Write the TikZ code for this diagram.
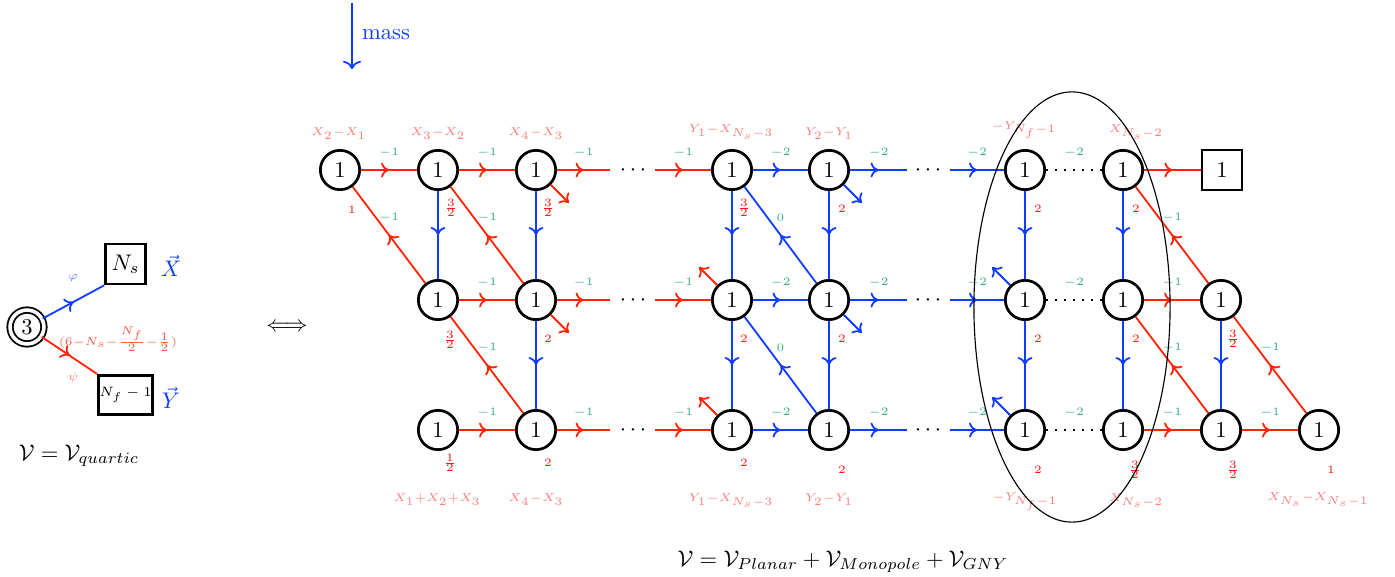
\documentclass[tikz,border=0pt]{standalone}
\usetikzlibrary{decorations.markings,arrows.meta}
\definecolor{cR}{RGB}{255,35,5}
\definecolor{cB}{RGB}{15,60,255}
\definecolor{cG}{RGB}{55,175,125}
\definecolor{cP}{RGB}{255,125,125}
\definecolor{cL}{RGB}{255,20,20}
\begin{document}
\begin{tikzpicture}[x=0.4425pt,y=-0.4425pt,
  >={To[length=3.5pt,width=6.6pt]},
  qn/.style={draw, circle, very thick, minimum size=17.4pt, inner sep=0pt},
  mid/.style={postaction={decorate,decoration={markings,mark=at position 0.5 with {\arrow{>}}}}},
  eR/.style={cR, thick, mid},
  eB/.style={cB, thick, mid},
  dotl/.style={black, line width=1pt, dash pattern=on 1pt off 3pt},
  gl/.style={midway, yshift=7.5pt, font=\tiny, text=cG},
  rl/.style={font=\tiny, text=cL, inner sep=0pt},
  pt/.style={font=\tiny, text=cP, anchor=south},
  pb/.style={font=\tiny, text=cP, anchor=north},
  stubR/.style={cR, thick, ->},
  stubB/.style={cB, thick, ->}]
\useasboundingbox (0,0) rectangle (1395,577);

% ---------- left quiver ----------
\node[draw, circle, double, thick, double distance=1.6pt, minimum size=15pt, inner sep=0pt] (three) at (27,327) {3};
\node[draw, very thick, minimum size=17.7pt, inner sep=1pt] (Ns) at (125.5,264) {$N_s$};
\node[draw, very thick, minimum width=22.5pt, minimum height=17.4pt, inner sep=0.4pt, font=\fontsize{6.3pt}{7pt}\selectfont] (Nf) at (125.5,395) {$N_f-1$};
\draw[eB] (three) -- (Ns.south west);
\draw[eR] (three) -- (Nf.north west);
\node[font=\tiny, text=cB!65] (phi) at (73,278) {$\varphi$};
\node[font=\tiny, text=cP] (psi) at (73,378) {$\psi$};
\node[font=\tiny, text=cR!75] (rch) at (118,339) {$\scriptstyle(6-N_s-\frac{N_f}{2}-\frac{1}{2})$};
\node[text=cB, inner sep=0pt] (vX) at (171,266) {$\vec{X}$};
\node[text=cB, inner sep=0pt] (vY) at (171,398) {$\vec{Y}$};
\node (Vq) at (79,456) {$\mathcal{V}=\mathcal{V}_{quartic}$};
\node (iff) at (287,327) {$\Longleftrightarrow$};

% ---------- mass arrow ----------
\coordinate (m0) at (352,3);
\coordinate (m1) at (352,69);
\draw[cB, thick, -{To[length=3.6pt,width=8pt]}] (m0) -- (m1);
\node[text=cB] (mass) at (386,35) {mass};

% ---------- nodes ----------
\node[qn] (n11) at (340,170) {1};
\node[qn] (n21) at (438,170) {1};
\node[qn] (n31) at (536,170) {1};
\node[qn] (n41) at (732,170) {1};
\node[qn] (n51) at (829,170) {1};
\node[qn] (n61) at (1025,170) {1};
\node[qn] (n71) at (1123,170) {1};
\node[draw, very thick, minimum size=17.7pt, inner sep=0pt] (sq) at (1222,170) {1};

\node[qn] (n22) at (438,300) {1};
\node[qn] (n32) at (536,300) {1};
\node[qn] (n42) at (732,300) {1};
\node[qn] (n52) at (829,300) {1};
\node[qn] (n62) at (1025,300) {1};
\node[qn] (n72) at (1123,300) {1};
\node[qn] (n82) at (1221,300) {1};

\node[qn] (n23) at (438,430) {1};
\node[qn] (n33) at (536,430) {1};
\node[qn] (n43) at (732,430) {1};
\node[qn] (n53) at (829,430) {1};
\node[qn] (n63) at (1025,430) {1};
\node[qn] (n73) at (1123,430) {1};
\node[qn] (n83) at (1221,430) {1};
\node[qn] (n93) at (1319,430) {1};

% free ends and dots
\foreach \r/\y in {1/170,2/300,3/430}{
  \coordinate (a\r) at (610,\y);
  \coordinate (b\r) at (655,\y);
  \coordinate (c\r) at (907,\y);
  \coordinate (d\r) at (950,\y);
  \node (dA\r) at (633,\y) {$\cdots$};
  \node (dB\r) at (928,\y) {$\cdots$};
}

% ---------- row 1 ----------
\draw[eR] (n11) -- node[gl]{$-1$} (n21);
\draw[eR] (n21) -- node[gl]{$-1$} (n31);
\draw[eR] (n31) -- node[gl]{$-1$} (a1);
\draw[eR] (b1) -- node[gl]{$-1$} (n41);
\draw[eB] (n41) -- node[gl]{$-2$} (n51);
\draw[eB] (n51) -- node[gl]{$-2$} (c1);
\draw[eB] (d1) -- node[gl]{$-2$} (n61);
\draw[dotl] (n61) -- node[gl]{$-2$} (n71);
\draw[eR] (n71) -- (sq);

% ---------- row 2 ----------
\draw[eR] (n22) -- node[gl]{$-1$} (n32);
\draw[eR] (n32) -- node[gl]{$-1$} (a2);
\draw[eR] (b2) -- node[gl]{$-1$} (n42);
\draw[eB] (n42) -- node[gl]{$-2$} (n52);
\draw[eB] (n52) -- node[gl]{$-2$} (c2);
\draw[eB] (d2) -- node[gl]{$-2$} (n62);
\draw[dotl] (n62) -- node[gl]{$-2$} (n72);
\draw[eR] (n72) -- node[gl]{$-1$} (n82);

% ---------- row 3 ----------
\draw[eR] (n23) -- node[gl]{$-1$} (n33);
\draw[eR] (n33) -- node[gl]{$-1$} (a3);
\draw[eR] (b3) -- node[gl]{$-1$} (n43);
\draw[eB] (n43) -- node[gl]{$-2$} (n53);
\draw[eB] (n53) -- node[gl]{$-2$} (c3);
\draw[eB] (d3) -- node[gl]{$-2$} (n63);
\draw[dotl] (n63) -- node[gl]{$-2$} (n73);
\draw[eR] (n73) -- node[gl]{$-1$} (n83);
\draw[eR] (n83) -- node[gl]{$-1$} (n93);

% ---------- verticals ----------
\draw[eB] (n21) -- (n22);
\draw[eB] (n31) -- (n32);
\draw[eB] (n32) -- (n33);
\draw[eB] (n41) -- (n42);
\draw[eB] (n42) -- (n43);
\draw[eB] (n51) -- (n52);
\draw[eB] (n52) -- (n53);
\draw[eB] (n61) -- (n62);
\draw[eB] (n62) -- (n63);
\draw[eB] (n71) -- (n72);
\draw[eB] (n72) -- (n73);
\draw[eB] (n82) -- (n83);

% ---------- diagonals ----------
\draw[eR] (n22) -- node[gl]{$-1$} (n11);
\draw[eR] (n32) -- node[gl]{$-1$} (n21);
\draw[eR] (n33) -- node[gl]{$-1$} (n22);
\draw[eB] (n52) -- node[gl]{$0$} (n41);
\draw[eB] (n53) -- node[gl]{$0$} (n42);
\draw[eR] (n82) -- node[gl]{$-1$} (n71);
\draw[eR] (n83) -- node[gl]{$-1$} (n72);
\draw[eR] (n93) -- node[gl]{$-1$} (n82);

% ---------- stubs ----------
\draw[stubR] (n31.-45) -- ++(18,18);
\draw[stubR] (n32.-45) -- ++(18,18);
\draw[stubR] (n42.135) -- ++(-18,-18);
\draw[stubR] (n43.135) -- ++(-18,-18);
\draw[stubB] (n51.-45) -- ++(18,18);
\draw[stubB] (n52.-45) -- ++(18,18);
\draw[stubB] (n62.135) -- ++(-18,-18);
\draw[stubB] (n63.135) -- ++(-18,-18);

% ---------- R-charge labels ----------
\node[rl] (r11) at (352,210) {$1$};
\node[rl] (r21) at (451,208) {$\frac{3}{2}$};
\node[rl] (r31) at (548,208) {$\frac{3}{2}$};
\node[rl] (r41) at (744,208) {$\frac{3}{2}$};
\node[rl] (r51) at (842,209) {$2$};
\node[rl] (r61) at (1038,209) {$2$};
\node[rl] (r71) at (1136,209) {$2$};
\node[rl] (r22) at (450,340) {$\frac{3}{2}$};
\node[rl] (r32) at (548,339) {$2$};
\node[rl] (r42) at (744,339) {$2$};
\node[rl] (r52) at (842,339) {$2$};
\node[rl] (r62) at (1038,339) {$2$};
\node[rl] (r72) at (1136,339) {$2$};
\node[rl] (r82) at (1233,339) {$\frac{3}{2}$};
\node[rl] (r23) at (450,463) {$\frac{1}{2}$};
\node[rl] (r33) at (548,463) {$2$};
\node[rl] (r43) at (744,463) {$2$};
\node[rl] (r53) at (842,470) {$2$};
\node[rl] (r63) at (1038,470) {$2$};
\node[rl] (r73) at (1135,470) {$\frac{3}{2}$};
\node[rl] (r83) at (1233,470) {$\frac{3}{2}$};
\node[rl] (r93) at (1331,470) {$1$};

% ---------- pink labels ----------
\node[pt] (t1) at (339,147) {$\scriptstyle X_2-X_1$};
\node[pt] (t2) at (438,147) {$\scriptstyle X_3-X_2$};
\node[pt] (t3) at (536,147) {$\scriptstyle X_4-X_3$};
\node[pt] (t4) at (731,147) {$\scriptstyle Y_1-X_{N_s-3}$};
\node[pt] (t5) at (829,147) {$\scriptstyle Y_2-Y_1$};
\node[pt] (t6) at (1024,147) {$\scriptstyle -Y_{N_f-1}$};
\node[pt] (t7) at (1136,147) {$\scriptstyle X_{N_s-2}$};
\node[pb] (b2l) at (437,486) {$\scriptstyle X_1+X_2+X_3$};
\node[pb] (b3l) at (536,486) {$\scriptstyle X_4-X_3$};
\node[pb] (b4l) at (731,486) {$\scriptstyle Y_1-X_{N_s-3}$};
\node[pb] (b5l) at (829,486) {$\scriptstyle Y_2-Y_1$};
\node[pb] (b6l) at (1025,485) {$\scriptstyle -Y_{N_f-1}$};
\node[pb] (b7l) at (1136,486) {$\scriptstyle X_{N_s-2}$};
\node[pb] (b9l) at (1318,485) {$\scriptstyle X_{N_s}-X_{N_s-1}$};

% ---------- ellipse ----------
\draw[black, line width=0.5pt] (1072,307) ellipse [x radius=43.4pt, y radius=95.2pt];

% ---------- potential ----------
\node (Vt) at (843,562) {$\mathcal{V}=\mathcal{V}_{Planar}+\mathcal{V}_{Monopole}+\mathcal{V}_{GNY}$};
\end{tikzpicture}
\end{document}
